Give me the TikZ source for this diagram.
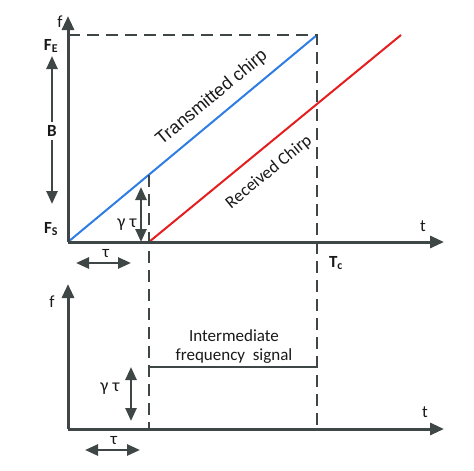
\documentclass[tikz,border=0pt]{standalone}
\usepackage{fontspec}
\setmainfont{Carlito}
\newfontfamily\arialfont{Liberation Sans}
\usetikzlibrary{arrows.meta}
\definecolor{axisgray}{RGB}{62,70,70}
\definecolor{chirpblue}{RGB}{45,125,228}
\definecolor{chirpred}{RGB}{228,30,30}
\tikzset{
  axisline/.style={draw=axisgray,line width=3pt,-{Triangle[length=14pt,width=12pt]}},
  dimarrow/.style={draw=axisgray,line width=2.5pt,{Triangle[length=13pt,width=11pt]}-{Triangle[length=13pt,width=11pt]}},
  guide/.style={draw=axisgray,line width=2.6pt,dash pattern=on 12pt off 7pt},
  lbl/.style={inner sep=0pt,text=black!90,font=\fontsize{17}{19}\selectfont},
  blbl/.style={lbl,font=\fontsize{17}{19}\selectfont\bfseries},
}
\begin{document}
\begin{tikzpicture}[x=1pt,y=-1pt]
\useasboundingbox (0,0) rectangle (474,471);
% coordinates
\coordinate (O1) at (68,242);
\coordinate (Y1) at (68,16);
\coordinate (X1) at (444,242);
\coordinate (E) at (317,35);
\coordinate (FE) at (68,35);
\coordinate (D) at (149,242);
\coordinate (R) at (401,35);
\coordinate (T0) at (149,175);
\coordinate (TcB) at (317,429);
\coordinate (DB) at (149,429);
\coordinate (O2) at (68,429);
\coordinate (Y2) at (68,284);
\coordinate (X2) at (444,429);
\coordinate (IF0) at (149,367);
\coordinate (IF1) at (317,367);
% chirps
\draw[chirpblue,line width=2pt] (O1) -- (E);
\draw[chirpred,line width=2pt] (D) -- (R);
% dashed guides
\draw[guide] (FE) -- (E) -- (TcB);
\draw[guide] (T0) -- (DB);
% IF signal
\draw[axisgray,line width=2.5pt] (IF0) -- (IF1);
% axes
\draw[axisline] (O1) -- (Y1);
\draw[axisline] (O1) -- (X1);
\draw[axisline] (O2) -- (Y2);
\draw[axisline] (O2) -- (X2);
% dimension arrows
\coordinate (B0) at (52,56);
\coordinate (B1) at (52,204);
\draw[dimarrow] (B0) -- (B1);
\node[blbl,fill=white,inner sep=3pt] (B) at (52,131) {B};
\coordinate (g0) at (141,187);
\coordinate (g1) at (141,242);
\draw[dimarrow] (g0) -- (g1);
\coordinate (t0) at (76,263);
\coordinate (t1) at (131,263);
\draw[dimarrow] (t0) -- (t1);
\coordinate (g2) at (131,367);
\coordinate (g3) at (131,421);
\draw[dimarrow] (g2) -- (g3);
\coordinate (t2) at (85,450);
\coordinate (t3) at (140,450);
\draw[dimarrow] (t2) -- (t3);
% labels
\node[lbl] (f1) at (60,22) {f};
\node[blbl] (FEl) at (51,46) {F\textsubscript{E}};
\node[blbl] (FSl) at (51,229) {F\textsubscript{S}};
\node[lbl] (tt1) at (423,226) {t};
\node[blbl] (Tc) at (336,263) {T\textsubscript{c}};
\node[lbl] (tau1) at (106,254) {τ};
\node[lbl,font=\fontsize{18}{20}\selectfont] (gt1) at (127,225) {γ τ};
\node[lbl] (f2) at (52,302) {f};
\node[lbl,font=\fontsize{18}{20}\selectfont] (gt2) at (110,389) {γ τ};
\node[lbl] (tau2) at (114,441) {τ};
\node[lbl] (tt2) at (425,412) {t};
\node[lbl,align=center] (IF) at (234,347) {Intermediate\\frequency\ \ signal};
\node[lbl,font=\arialfont\fontsize{18}{20}\selectfont,rotate=39.7] (tx) at (212,98) {Transmitted chirp};
\node[lbl,font=\fontsize{17.5}{19}\selectfont,rotate=39.3] (rx) at (269,172) {Received Chirp};
\end{tikzpicture}
\end{document}
